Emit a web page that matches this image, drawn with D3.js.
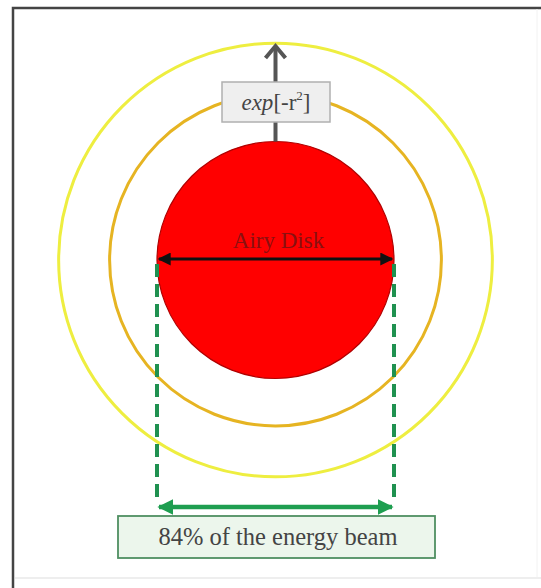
<!DOCTYPE html>
<html><head><meta charset="utf-8">
<script src="https://cdn.jsdelivr.net/npm/d3@7"></script>
<style>body{margin:0;background:#fff}svg{display:block}
.serif{font-family:"Liberation Serif","Times New Roman","DejaVu Serif","Noto Serif",serif}</style>
</head><body>
<script>
// ---- data ----
const ringNames = ["Airy Disk", "first ring", "second ring"];
const ringRadii = [1.0, 1.4, 1.83];          // relative to Airy disk radius
const ringColors = ["#ff0000", "#e6b422", "#eeee40"];
const topLabel = ["exp", "[-r", "2", "]"];
const diskLabel = "Airy Disk";
const bottomLabel = "84% of the energy beam";

const W = 541, H = 588;
const cx = 275.5, cy = 260;
const svg = d3.select("body").append("svg").attr("width", W).attr("height", H);

const r = d3.scaleLinear().domain([0, 1]).range([0, 118.5]);

// frame
svg.append("path").attr("d", `M13,588 V8 H541`).attr("fill", "none")
  .attr("stroke", "#444").attr("stroke-width", 2.5);
svg.append("line").attr("x1", 537).attr("x2", 537).attr("y1", 9).attr("y2", 578)
  .attr("stroke", "#f2f2f2").attr("stroke-width", 1);
svg.append("line").attr("x1", 15).attr("x2", 541).attr("y1", 578).attr("y2", 578)
  .attr("stroke", "#eeeeee").attr("stroke-width", 2);

// rings (outer first)
const idx = d3.range(ringRadii.length).reverse();
idx.forEach(i => {
  if (i === 0) return;
  svg.append("circle").attr("cx", cx).attr("cy", cy).attr("r", r(ringRadii[i]))
    .attr("fill", "none").attr("stroke", ringColors[i]).attr("stroke-width", 3);
});
svg.append("circle").attr("cx", cx).attr("cy", cy).attr("r", r(ringRadii[0]))
  .attr("fill", ringColors[0]).attr("stroke", "#b00000").attr("stroke-width", 1.2);

// gray upward arrow
const topY = 44;
svg.append("line").attr("x1", cx).attr("x2", cx).attr("y1", cy - r(1)).attr("y2", topY + 2)
  .attr("stroke", "#555").attr("stroke-width", 4);
svg.append("path").attr("d", `M${cx-10},${topY+14} L${cx},${topY+2} L${cx+10},${topY+14}`)
  .attr("fill", "none").attr("stroke", "#555").attr("stroke-width", 4)
  .attr("stroke-linejoin", "miter");

// top label box
svg.append("rect").attr("x", 222).attr("y", 82).attr("width", 108).attr("height", 40)
  .attr("fill", "#efefef").attr("stroke", "#b0b0b0").attr("stroke-width", 1.5);
const tt = svg.append("text").attr("class", "serif").attr("x", 276).attr("y", 110).attr("text-anchor", "middle")
  .attr("font-size", 23).attr("fill", "#444");
tt.append("tspan").attr("font-style", "italic").text(topLabel[0]);
tt.append("tspan").text(topLabel[1]);
tt.append("tspan").attr("font-size", 13).attr("dy", -10).text(topLabel[2]);
tt.append("tspan").attr("dy", 10).text(topLabel[3]);

// Airy Disk label
svg.append("text").attr("class", "serif").attr("x", 278.5).attr("y", 248).attr("text-anchor", "middle")
  .attr("font-size", 23).attr("fill", "#8a1010").text(diskLabel);

// defs for arrowheads
const defs = svg.append("defs");
function marker(id, color, size) {
  defs.append("marker").attr("id", id).attr("viewBox", "0 0 10 10")
    .attr("refX", 9).attr("refY", 5).attr("markerWidth", size).attr("markerHeight", size)
    .attr("markerUnits", "userSpaceOnUse").attr("orient", "auto-start-reverse")
    .append("path").attr("d", "M0,0 L10,5 L0,10 Z").attr("fill", color);
}
marker("blk", "#111", 13);
marker("grn", "#1e9e50", 16);

const xL = cx - r(1), xR = cx + r(1);
// green dashed verticals
[xL, xR].forEach(x => {
  svg.append("line").attr("x1", x).attr("x2", x).attr("y1", 264).attr("y2", 503)
    .attr("stroke", "#1f9150").attr("stroke-width", 4).attr("stroke-dasharray", "13,7");
});
// black double arrow
svg.append("line").attr("x1", xL + 2).attr("x2", xR - 2).attr("y1", 259).attr("y2", 259)
  .attr("stroke", "#111").attr("stroke-width", 3)
  .attr("marker-start", "url(#blk)").attr("marker-end", "url(#blk)");

// green double arrow
svg.append("line").attr("x1", xL + 2).attr("x2", xR - 2).attr("y1", 507).attr("y2", 507)
  .attr("stroke", "#1e9e50").attr("stroke-width", 4.5)
  .attr("marker-start", "url(#grn)").attr("marker-end", "url(#grn)");

// bottom label box
svg.append("rect").attr("x", 118).attr("y", 516).attr("width", 317).attr("height", 42)
  .attr("fill", "#ecf6ec").attr("stroke", "#4f8f62").attr("stroke-width", 1.8);
svg.append("text").attr("class", "serif").attr("x", 278).attr("y", 545).attr("text-anchor", "middle")
  .attr("font-size", 24.5).attr("fill", "#444").text(bottomLabel);
</script>
</body></html>
